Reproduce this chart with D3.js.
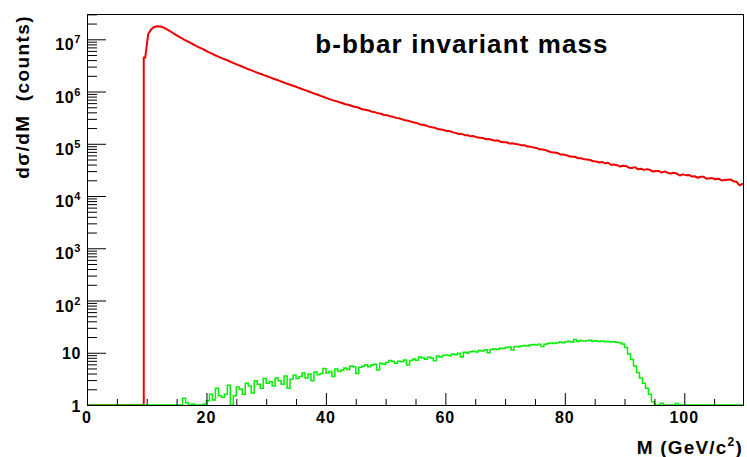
<!DOCTYPE html>
<html><head><meta charset="utf-8">
<script src="https://cdn.jsdelivr.net/npm/d3@7"></script>
<style>
body{margin:0;background:#fff}
svg{display:block}
text{font-family:"Liberation Sans",Arial,Helvetica,sans-serif;font-weight:bold;fill:#000}
</style>
</head><body><svg id="c" width="747" height="457"></svg>
<script>
// ---------- data ----------
const chartTitle = "b-bbar invariant mass";
const xTitle = "M (GeV/c";
const xTitleSup = "2";
const xTitleEnd = ")";
const yTitle = "d\u03C3/dM \u00A0(counts)";

const binWidth = 0.5;            // GeV per bin
const xDomain = [0, 110];
const yDomain = [1, 3.05e7];

const xMajorTicks = [0, 20, 40, 60, 80, 100];
const xMajorLabels = ["0", "20", "40", "60", "80", "100"];
const xMinorTicks = [5, 10, 15, 25, 30, 35, 45, 50, 55, 65, 70, 75, 85, 90, 95, 105];
const yMajorTicks = [1, 10, 100, 1e3, 1e4, 1e5, 1e6, 1e7];
const yLabelBase = ["1", "10", "10", "10", "10", "10", "10", "10"];
const yLabelExp  = ["", "", "2", "3", "4", "5", "6", "7"];

// b-bbar spectrum (red), bins start at 9.5 GeV
const redStart = 9.5;
const redCounts = [
 4470000, 12600000, 15500000, 17200000, 17800000, 17600000, 17000000, 15850000, 14600000, 13500000,
 12450000, 11500000, 10700000, 9890000, 9230000, 8610000, 8040000, 7500000, 7030000, 6610000,
 6170000, 5750000, 5430000, 5070000, 4790000, 4520000, 4270000, 4070000, 3850000, 3630000,
 3430000, 3240000, 3080000, 2920000, 2750000, 2620000, 2480000, 2360000, 2240000, 2140000,
 2040000, 1940000, 1850000, 1760000, 1680000, 1600000, 1520000, 1450000, 1380000, 1320000,
 1260000, 1200000, 1145000, 1090000, 1040000, 991000, 944000, 899000, 857000, 817000,
 778000, 741000, 708000, 676000, 656000, 622000, 603000, 571000, 560000, 535000,
 511000, 500000, 474000, 453000, 444000, 432000, 409000, 400000, 384000, 376000,
 356000, 351000, 338000, 328000, 313000, 309000, 294000, 281000, 277000, 266000,
 255000, 249000, 235000, 231000, 224000, 213000, 206500, 202000, 192000, 188000,
 184000, 175000, 175400, 165300, 161800, 153900, 154300, 146300, 145400, 138900,
 140400, 132700, 131000, 129300, 122500, 123800, 119600, 114800, 116300, 109300,
 107500, 107100, 100900, 102500, 98600, 97400, 93300, 93600, 88400, 88100,
 84500, 83400, 78200, 78100, 76300, 71700, 69000, 68400, 66900, 62500,
 62100, 60600, 57500, 56300, 56200, 52900, 52700, 50400, 49900, 49000,
 46200, 46000, 43800, 44900, 42200, 43300, 39500, 40200, 38900, 36600,
 37900, 37500, 34900, 34500, 35700, 32400, 33200, 31700, 32700, 31800,
 29400, 30100, 30100, 28100, 29600, 27700, 27000, 27800, 26800, 24700,
 26000, 25100, 25300, 23700, 23900, 22400, 23400, 23300, 21400, 21800,
 21900, 21000, 21500, 19900, 20200, 20500, 20800, 19100, 18700, 16000,
 17000
];

// selected subsample (green), bins start at 16 GeV
const greenStart = 16;
const greenCounts = [
 1.35, 1.1, 0, 1.05, 0, 0, 0, 1.05, 1.2, 1.6,
 1.25, 2.1, 1.5, 1.4, 1.6, 2.4, 0, 1.5, 2.2, 2.0,
 1.6, 2.6, 2.3, 1.7, 2.9, 2.5, 2.1, 3.2, 2.6, 2.8,
 2.3, 3.3, 2.9, 2.5, 3.6, 2.1, 3.1, 3.7, 3.2, 3.5,
 4.1, 3.3, 3.9, 2.9, 4.3, 3.8, 4.0, 5.0, 4.1, 4.4,
 3.5, 4.9, 4.4, 4.7, 5.1, 4.8, 5.6, 5.4, 4.0, 5.3,
 5.5, 5.9, 5.4, 5.8, 6.0, 4.7, 6.3, 6.0, 6.5, 7.1,
 6.8, 6.3, 6.9, 6.7, 7.3, 5.8, 7.1, 7.6, 7.2, 8.3,
 7.9, 7.5, 8.2, 7.9, 7.0, 8.7, 8.3, 8.9, 9.1, 8.8,
 9.5, 9.2, 9.8, 8.3, 10.2, 9.9, 10.4, 10.7, 10.3, 11.0,
 10.8, 11.4, 10.0, 11.6, 11.9, 11.5, 12.2, 12.0, 12.6, 12.9,
 11.3, 13.2, 13.0, 13.5, 13.8, 13.4, 14.1, 14.4, 14.0, 14.6,
 13.2, 14.5, 15.1, 15.4, 15.0, 15.6, 16.1, 15.6, 16.2, 16.6,
 16.1, 17.9, 16.5, 17.1, 16.7, 16.9, 17.3, 16.6, 16.9, 16.4,
 16.8, 16.2, 16.5, 16.0, 16.3, 15.9, 15.5, 14.7, 12.6, 9.5,
 7.4, 5.6, 4.2, 3.3, 2.6, 2.1, 1.6, 1.15, 0, 0,
 1.08, 0, 0, 0, 0, 1.07, 0
];

// ---------- drawing ----------
const svg = d3.select("#c");
const L = 87, R = 744, T = 14, B = 405;

const x = d3.scaleLinear().domain(xDomain).range([L, R]);
const y = d3.scaleLog().domain(yDomain).range([B, T]).clamp(true);
const yv = v => (v > 1 ? y(v) : y(1));

svg.append("rect").attr("width", 747).attr("height", 457).attr("fill", "#fff");

svg.append("defs").append("clipPath").attr("id", "clip")
  .append("rect").attr("x", L).attr("y", T).attr("width", R - L).attr("height", B - T + 3);

// fine-binned spectrum: rising edge, then bin centres
function redPoints(start, counts) {
  const pts = [[x(xDomain[0]), yv(0)], [x(start), yv(0)], [x(start), yv(counts[0])],
               [x(start + binWidth / 2), yv(counts[0])]];
  counts.forEach((c, i) => { if (i > 0) pts.push([x(start + (i + 0.5) * binWidth), yv(c)]); });
  pts.push([x(start + counts.length * binWidth), yv(counts[counts.length - 1])]);
  return pts;
}
// step histogram
function stepPoints(start, counts) {
  const pts = [[x(xDomain[0]), yv(0)], [x(start), yv(0)]];
  counts.forEach((c, i) => {
    pts.push([x(start + i * binWidth), yv(c)]);
    pts.push([x(start + (i + 1) * binWidth), yv(c)]);
  });
  const end = start + counts.length * binWidth;
  if (end < xDomain[1]) {
    pts.push([x(end), yv(0)]);
    pts.push([x(xDomain[1]), yv(0)]);
  }
  return pts;
}
const line = d3.line();
const plot = svg.append("g").attr("clip-path", "url(#clip)");
plot.append("path").attr("d", line(redPoints(redStart, redCounts)))
  .attr("fill", "none").attr("stroke", "#ee0000").attr("stroke-width", 2).attr("stroke-linejoin", "round");
plot.append("path").attr("d", line(stepPoints(greenStart, greenCounts)))
  .attr("fill", "none").attr("stroke", "#00ee00").attr("stroke-width", 1.5);

// frame
svg.append("rect").attr("x", L + 0.5).attr("y", T + 0.5).attr("width", R - L - 1).attr("height", B - T)
  .attr("fill", "none").attr("stroke", "#000").attr("stroke-width", 1);

// y ticks (inside, pointing right)
const yMinor = [];
yMajorTicks.forEach(d => { for (let k = 2; k <= 9; k++) { const v = d * k; if (v <= yDomain[1]) yMinor.push(v); } });
const gyMaj = svg.append("g").attr("transform", `translate(${L},0)`)
  .call(d3.axisRight(y).tickValues(yMajorTicks).tickSize(19).tickFormat(""));
const gyMin = svg.append("g").attr("transform", `translate(${L},0)`)
  .call(d3.axisRight(y).tickValues(yMinor).tickSize(10).tickFormat(""));
// x ticks (inside, pointing up)
const gxMaj = svg.append("g").attr("transform", `translate(0,${B})`)
  .call(d3.axisTop(x).tickValues(xMajorTicks).tickSize(12).tickFormat(""));
const gxMin = svg.append("g").attr("transform", `translate(0,${B})`)
  .call(d3.axisTop(x).tickValues(xMinorTicks).tickSize(6).tickFormat(""));
[gyMaj, gyMin, gxMaj, gxMin].forEach(g => {
  g.select(".domain").remove();
  g.selectAll("line").attr("stroke", "#000").attr("stroke-width", 1);
});
svg.append("line").attr("x1", L).attr("x2", R).attr("y1", B + 0.5).attr("y2", B + 0.5)
  .attr("stroke", "#000").attr("stroke-width", 1);

// y labels
yMajorTicks.forEach((d, i) => {
  const hasExp = yLabelExp[i] !== "";
  const t = svg.append("text").attr("x", 81).attr("y", y(d) + (hasExp ? 11 : 6.5))
    .attr("text-anchor", "end").style("font-size", "16px").style("letter-spacing", "0.6px");
  t.append("tspan").text(yLabelBase[i]);
  if (hasExp) t.append("tspan").attr("dy", -7).style("font-size", "11px").text(yLabelExp[i]);
});
// x labels
xMajorTicks.forEach((d, i) => {
  svg.append("text").attr("x", x(d)).attr("y", 423).attr("text-anchor", "middle")
    .style("font-size", "16px").style("letter-spacing", "1px").text(xMajorLabels[i]);
});

// titles
svg.append("text").attr("x", 462).attr("y", 53).attr("text-anchor", "middle")
  .style("font-size", "26px").style("letter-spacing", "1.1px").text(chartTitle);

const xt = svg.append("text").attr("x", 743).attr("y", 454).attr("text-anchor", "end")
  .style("font-size", "19px").style("letter-spacing", "1.2px");
xt.append("tspan").text(xTitle);
xt.append("tspan").attr("dy", -8).style("font-size", "12px").text(xTitleSup);
xt.append("tspan").attr("dy", 8).text(xTitleEnd);

svg.append("text").attr("transform", "translate(29,15) rotate(-90)").attr("text-anchor", "end")
  .style("font-size", "19px").style("letter-spacing", "1.4px").text(yTitle);
</script>
</body></html>
